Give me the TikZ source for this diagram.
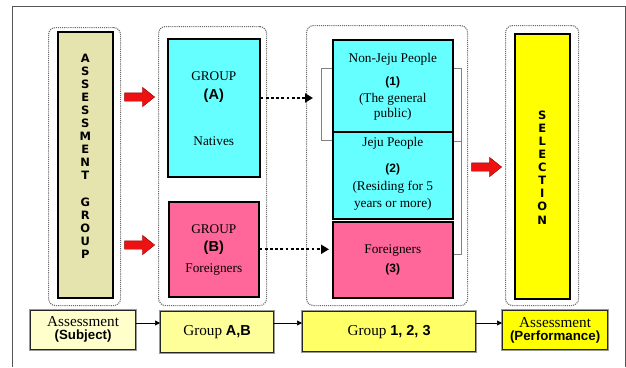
\documentclass[tikz,border=0pt]{standalone}
\usepackage{fontspec}
\setmainfont{Liberation Serif}
\newfontfamily\hvfont{Liberation Sans}
\newfontfamily\heavyfont{DejaVu Sans}
\usetikzlibrary{shapes.arrows,arrows.meta,calc}

\definecolor{khaki}{HTML}{E6E4AE}
\definecolor{cyanbox}{HTML}{66FFFF}
\definecolor{pinkbox}{HTML}{FF6699}
\definecolor{frameline}{HTML}{555555}
\definecolor{dotgray}{HTML}{6A6A6A}
\definecolor{redarrow}{HTML}{EE1111}
\definecolor{stageA}{HTML}{FFFFCC}
\definecolor{stageB}{HTML}{FFFF99}
\definecolor{stageC}{HTML}{FFFF66}
\definecolor{stageD}{HTML}{FFFF00}

\tikzset{
  container/.style={draw=dotgray, densely dotted, line width=1.1pt, rounded corners=7pt,
    inner sep=0, anchor=north west},
  panel/.style={draw=black, line width=1.6pt, inner sep=0, anchor=north west},
  txt/.style={inner sep=0, font=\fontsize{13.3}{15}\selectfont},
  boldtxt/.style={inner sep=0, font=\hvfont\bfseries\fontsize{14.5}{16}\selectfont},
  numtxt/.style={inner sep=0, font=\hvfont\bfseries\fontsize{12}{14}\selectfont},
  vertical/.style={inner sep=0, anchor=north, align=center,
    font=\heavyfont\bfseries\fontsize{11.5}{13.1}\selectfont},
  bigarrow/.style={single arrow, fill=redarrow, draw=red!55!black, line width=0.4pt,
    inner sep=0, text height=4pt, text depth=4pt, minimum height=30pt,
    single arrow head extend=5.5pt, single arrow tip angle=77, anchor=tip},
  dotarrow/.style={line width=2pt, dash pattern=on 2.8pt off 2.4pt,
    -{Triangle[length=8pt,width=9pt]}},
  flow/.style={line width=0.6pt, -{Triangle[length=5pt,width=5pt]}},
  bracket/.style={draw=gray, line width=0.9pt},
  stagebox/.style={draw=black!85, line width=1.2pt,
    preaction={draw=gray!80, line width=3.4pt}, inner sep=0, anchor=north west},
  stagetxt/.style={inner sep=0, font=\fontsize{15.2}{17}\selectfont},
  stagebold/.style={inner sep=0, font=\hvfont\bfseries\fontsize{13.3}{15}\selectfont},
}

\begin{document}
\begin{tikzpicture}[x=1pt, y=-1pt]
\useasboundingbox (0,0) rectangle (626,367);

% page frame
\draw[frameline, line width=0.8pt] (12,367) -- (12,6) -- (625,6) -- (625,367);

% dotted containers
\node[container, minimum width=72pt,  minimum height=278pt] (c1) at (48,27)  {};
\node[container, minimum width=108pt, minimum height=279pt] (c2) at (158,26) {};
\node[container, minimum width=161pt, minimum height=280pt] (c3) at (306,25) {};
\node[container, minimum width=73pt,  minimum height=280pt] (c4) at (505,25) {};

% panels
\node[panel, fill=khaki,   minimum width=55pt,  minimum height=266pt] (ag)  at (57,31)  {};
\node[panel, fill=cyanbox, minimum width=92pt,  minimum height=138pt] (gA)  at (167,38) {};
\node[panel, fill=pinkbox, minimum width=90pt,  minimum height=95pt]  (gB)  at (168,201) {};
\node[panel, fill=stageD,  minimum width=55pt,  minimum height=265pt] (sel) at (514,33) {};

% brackets behind the group boxes
\draw[bracket] (332,68) -- ++(-11,0) -- ++(0,72) -- ++(11,0);
\draw[bracket] (452,68) -- ++(9,0) -- ++(0,186) -- ++(-10,0);
\draw[bracket] (452,141) -- ++(9,0);

\node[panel, fill=cyanbox, minimum width=120pt, minimum height=92pt] (n1) at (332,39)  {};
\node[panel, fill=cyanbox, minimum width=120pt, minimum height=87pt] (n2) at (332,131) {};
\fill[gray!40] ($(n2.south west)+(3,1)$) rectangle ($(n2.south east)+(-3,3)$);
\node[panel, fill=pinkbox, minimum width=120pt, minimum height=76pt] (n3) at (332,221) {};

% vertical captions
\node[vertical] (agtext) at (ag.north |- 0,53.5)
  {A\\S\\S\\E\\S\\S\\M\\E\\N\\T\\[13.1pt]G\\R\\O\\U\\P};
\node[vertical] (seltext) at (sel.north |- 0,110.5) {S\\E\\L\\E\\C\\T\\I\\O\\N};

% group A / B labels
\node[txt]     (gA1) at (gA.north |- 0,76)  {GROUP};
\node[boldtxt] (gA2) at (gA.north |- 0,96)  {(A)};
\node[txt]     (gA3) at (gA.north |- 0,141) {Natives};
\node[txt]     (gB1) at (gB.north |- 0,229) {GROUP};
\node[boldtxt] (gB2) at (gB.north |- 0,248) {(B)};
\node[txt]     (gB3) at (gB.north |- 0,270) {Foreigners};

% group 1 / 2 / 3 labels
\node[txt]    (n1a) at (n1.north |- 0,59)  {Non-Jeju People};
\node[numtxt] (n1b) at (n1.north |- 0,82)  {(1)};
\node[txt]    (n1c) at (n1.north |- 0,99)  {(The general};
\node[txt]    (n1d) at (n1.north |- 0,114) {public)};
\node[txt]    (n2a) at (n2.north |- 0,143) {Jeju People};
\node[numtxt] (n2b) at (n2.north |- 0,169) {(2)};
\node[txt]    (n2c) at (n2.north |- 0,187) {(Residing for 5};
\node[txt]    (n2d) at (n2.north |- 0,204) {years or more)};
\node[txt]    (n3a) at (n3.north |- 0,251) {Foreigners};
\node[numtxt] (n3b) at (n3.north |- 0,269) {(3)};

% red block arrows
\node[bigarrow] (r1) at (155,97)  {};
\node[bigarrow] (r2) at (155,245) {};
\node[bigarrow] (r3) at (502,167) {};

% dotted connectors
\coordinate (tipA) at (313,98);
\draw[dotarrow] (gA.east |- tipA) -- (tipA);
\draw[dotarrow, shorten >=3pt] (gB.east) -- (n3.west |- gB.east);

% stage boxes
\node[stagebox, fill=stageA, minimum width=105pt, minimum height=39pt] (b1) at (30,310)  {};
\node[stagebox, fill=stageB, minimum width=113pt, minimum height=41pt] (b2) at (160,311) {};
\node[stagebox, fill=stageC, minimum width=173pt, minimum height=40pt] (b3) at (302,311) {};
\node[stagebox, fill=stageD, minimum width=105pt, minimum height=39pt] (b4) at (502,310) {};

\node[stagetxt]  (b1a) at (b1.north |- 0,321.5) {Assessment};
\node[stagebold] (b1b) at (b1.north |- 0,336) {(Subject)};
\node[stagetxt]  (b2a) at (b2.north |- 0,332) {Group {\hvfont\bfseries\fontsize{14.5}{16}\selectfont A,B}};
\node[stagetxt]  (b3a) at (b3.north |- 0,332) {Group {\hvfont\bfseries\fontsize{14.5}{16}\selectfont 1,~2,~3}};
\node[stagetxt]  (b4a) at (b4.north |- 0,322.5) {Assessment};
\node[stagebold] (b4b) at (b4.north |- 0,337.5) {(Performance)};

% stage flow
\draw[flow] (b1.east |- 0,323) -- (b2.west |- 0,323);
\draw[flow] (b2.east |- 0,323) -- (b3.west |- 0,323);
\draw[flow] (b3.east |- 0,323) -- (b4.west |- 0,323);
\end{tikzpicture}
\end{document}
